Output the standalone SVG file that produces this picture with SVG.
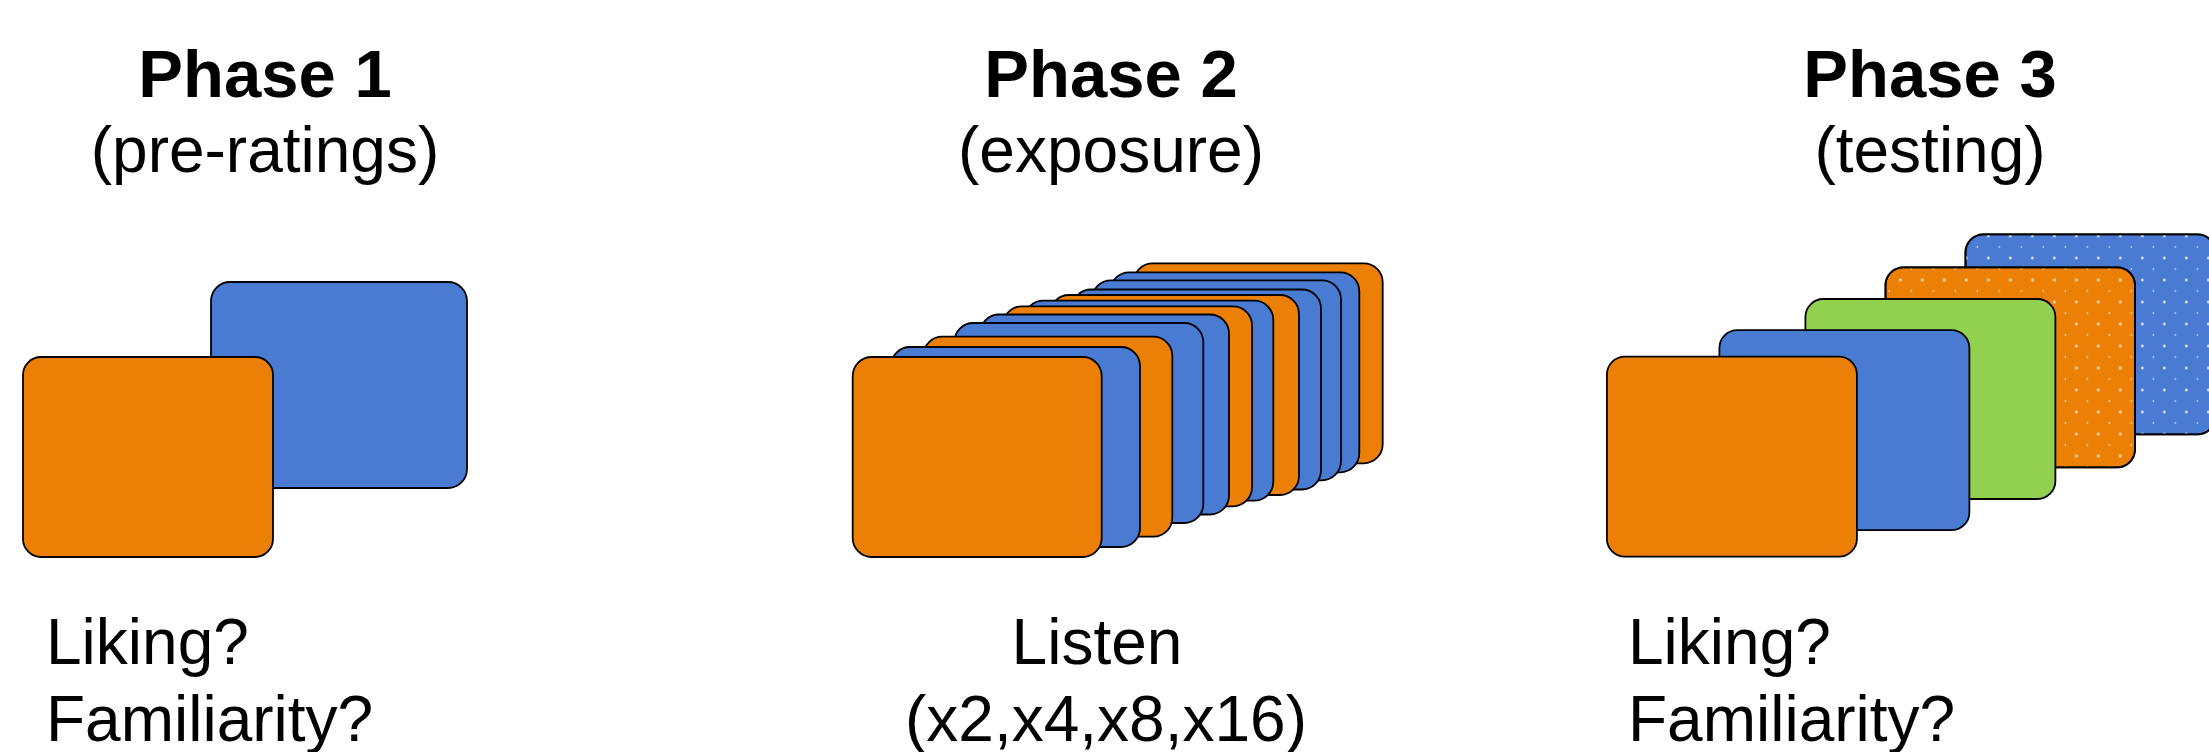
<svg xmlns="http://www.w3.org/2000/svg" width="2209" height="752" viewBox="0 0 2209 752">
  <style>
    .t { font-family: "Liberation Sans", Arial, Helvetica, sans-serif; fill: #000; }
    .title { font-size: 67px; font-weight: bold; text-anchor: middle; }
    .sub { font-size: 64px; text-anchor: middle; }
    .body { font-size: 64px; }
    .card { stroke: #000; stroke-width: 1.8; }
    .or { fill: #EC7F06; }
    .bl { fill: #4A7BD2; }
    .gr { fill: #92D050; }
  </style>
  <defs>
    <pattern id="dots" patternUnits="userSpaceOnUse" x="1971.8" y="241.5" width="22" height="22">
      <circle cx="5.5" cy="5.5" r="0.8" fill="#fff"/>
      <circle cx="16.5" cy="16.5" r="1.25" fill="#fff"/>
    </pattern>
  </defs>
  <rect width="2209" height="752" fill="#fff"/>

  <!-- Phase 1 -->
  <g id="phase1">
    <g id="p1-title"><text class="t title" x="265" y="97">Phase 1</text></g>
    <g id="p1-sub"><text class="t sub" x="265" y="172">(pre-ratings)</text></g>
    <g id="p1-card-blue"><rect class="card bl" x="211" y="282" width="256" height="206" rx="19"/></g>
    <g id="p1-card-orange"><rect class="card or" x="23" y="357" width="250" height="200" rx="18"/></g>
    <g id="p1-labels">
      <text class="t body" x="46" y="664">Liking?</text>
      <text class="t body" x="46" y="741">Familiarity?</text>
    </g>
  </g>

  <!-- Phase 2 -->
  <g id="phase2">
    <g id="p2-title"><text class="t title" x="1111" y="97">Phase 2</text></g>
    <g id="p2-sub"><text class="t sub" x="1111" y="172">(exposure)</text></g>
    <g id="p2-card12"><rect class="card or" x="1133.7" y="263.3" width="249" height="200" rx="19"/></g>
    <g id="p2-card11"><rect class="card bl" x="1110.3" y="272.3" width="249" height="200" rx="19"/></g>
    <g id="p2-card10"><rect class="card bl" x="1092" y="280.3" width="249" height="200" rx="19"/></g>
    <g id="p2-card9"><rect class="card bl" x="1072" y="289.5" width="249" height="200" rx="19"/></g>
    <g id="p2-card8"><rect class="card or" x="1050" y="295" width="249" height="200" rx="19"/></g>
    <g id="p2-card7"><rect class="card bl" x="1024.3" y="300.7" width="249" height="200" rx="19"/></g>
    <g id="p2-card6"><rect class="card or" x="1003" y="306.3" width="249" height="200" rx="19"/></g>
    <g id="p2-card5"><rect class="card bl" x="980" y="314.5" width="249" height="200" rx="19"/></g>
    <g id="p2-card4"><rect class="card bl" x="954.3" y="323" width="249" height="200" rx="19"/></g>
    <g id="p2-card3"><rect class="card or" x="923.3" y="336.7" width="249" height="200" rx="19"/></g>
    <g id="p2-card2"><rect class="card bl" x="891" y="347" width="249" height="200" rx="19"/></g>
    <g id="p2-card1"><rect class="card or" x="852.7" y="357" width="249" height="200" rx="19"/></g>
    <g id="p2-labels">
      <text class="t sub" x="1097" y="664">Listen</text>
      <text class="t sub" x="1106" y="741">(x2,x4,x8,x16)</text>
    </g>
  </g>

  <!-- Phase 3 -->
  <g id="phase3">
    <g id="p3-title"><text class="t title" x="1930" y="97">Phase 3</text></g>
    <g id="p3-sub"><text class="t sub" x="1930" y="172">(testing)</text></g>
    <g id="p3-card5">
      <rect class="card bl" x="1965.5" y="234.3" width="250" height="200" rx="18"/>
      <rect x="1965.5" y="234.3" width="250" height="200" rx="18" fill="url(#dots)"/>
      <rect x="1965.5" y="234.3" width="250" height="200" rx="18" fill="none" stroke="#000" stroke-width="1.8"/>
    </g>
    <g id="p3-card4">
      <rect class="card or" x="1885.5" y="267.3" width="249.5" height="200" rx="18"/>
      <rect x="1885.5" y="267.3" width="249.5" height="200" rx="18" fill="url(#dots)"/>
      <rect x="1885.5" y="267.3" width="249.5" height="200" rx="18" fill="none" stroke="#000" stroke-width="1.8"/>
    </g>
    <g id="p3-card3"><rect class="card gr" x="1805.4" y="299" width="250" height="200" rx="18"/></g>
    <g id="p3-card2"><rect class="card bl" x="1719.4" y="330.2" width="250" height="200" rx="18"/></g>
    <g id="p3-card1"><rect class="card or" x="1606.9" y="356.7" width="250" height="200" rx="18"/></g>
    <g id="p3-labels">
      <text class="t body" x="1628" y="664">Liking?</text>
      <text class="t body" x="1628" y="741">Familiarity?</text>
    </g>
  </g>

  <g id="connectors"/>
</svg>
